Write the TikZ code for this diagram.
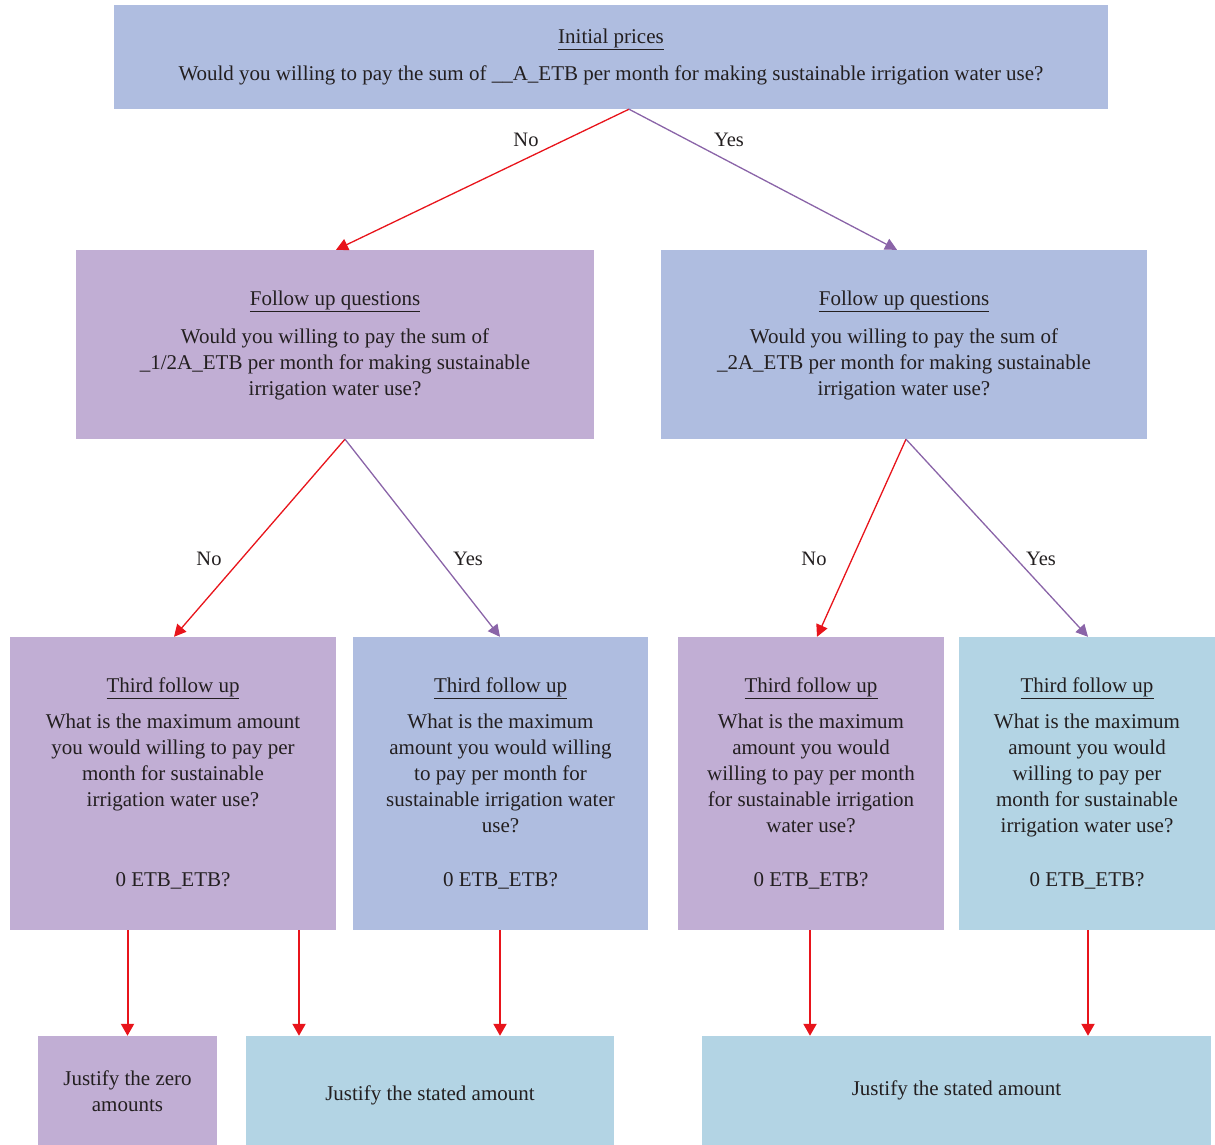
\documentclass[tikz,border=0pt]{standalone}
\usepackage{fontspec}
\setmainfont{Liberation Serif}
\usetikzlibrary{arrows.meta}
\definecolor{boxpurple}{HTML}{C1AED4}
\definecolor{boxblue}{HTML}{AFBDE0}
\definecolor{boxlight}{HTML}{B3D4E4}
\definecolor{arrred}{HTML}{E8141B}
\definecolor{arrpurple}{HTML}{8A64A8}
\definecolor{txt}{HTML}{231F20}
\tikzset{
  box/.style={rectangle, inner sep=0pt, align=center, text=txt,
    font=\fontsize{21}{26}\selectfont},
  pbox/.style={box, fill=boxpurple},
  bbox/.style={box, fill=boxblue},
  lbox/.style={box, fill=boxlight},
  noarrow/.style={draw=arrred, line width=1.3pt, -{Triangle[width=12pt,length=12pt]}},
  yesarrow/.style={draw=arrpurple, line width=1.3pt, -{Triangle[width=12pt,length=12pt]}},
  downarrow/.style={draw=arrred, line width=2pt, -{Triangle[width=13pt,length=12pt]}},
  lab/.style={text=txt, font=\fontsize{20.5}{24}\selectfont, inner sep=0pt}
}
\newcommand{\upx}[1]{\rule{0pt}{#1}}
\begin{document}
\begin{tikzpicture}[x=1pt,y=-1pt]
\useasboundingbox (0,0) rectangle (1215,1145);
% level 1
\node[bbox, minimum width=994pt, minimum height=104pt] (top) at (611,57)
  {\underline{Initial prices}\\[11pt]
   Would you willing to pay the sum of \_\_A\_ETB per month for making sustainable irrigation water use?};
% level 2
\node[pbox, minimum width=518pt, minimum height=189pt] (fl) at (335,344.5)
  {\upx{17pt}\underline{Follow up questions}\\[12pt]
   Would you willing to pay the sum of\\
   \_1/2A\_ETB per month for making sustainable\\
   irrigation water use?};
\node[bbox, minimum width=486pt, minimum height=189pt] (fr) at (904,344.5)
  {\upx{17pt}\underline{Follow up questions}\\[12pt]
   Would you willing to pay the sum of\\
   \_2A\_ETB per month for making sustainable\\
   irrigation water use?};
% level 3
\node[pbox, minimum width=326pt, minimum height=293pt] (ta) at (173,783.5)
  {\underline{Third follow up}\\[10pt]
   What is the maximum amount\\
   you would willing to pay per\\
   month for sustainable\\
   irrigation water use?\\[54pt]
   0 ETB\_ETB?};
\node[bbox, minimum width=295pt, minimum height=293pt] (tb) at (500.5,783.5)
  {\underline{Third follow up}\\[10pt]
   What is the maximum\\
   amount you would willing\\
   to pay per month for\\
   sustainable irrigation water\\
   use?\\[28pt]
   0 ETB\_ETB?};
\node[pbox, minimum width=266pt, minimum height=293pt] (tc) at (811,783.5)
  {\underline{Third follow up}\\[10pt]
   What is the maximum\\
   amount you would\\
   willing to pay per month\\
   for sustainable irrigation\\
   water use?\\[28pt]
   0 ETB\_ETB?};
\node[lbox, minimum width=256pt, minimum height=293pt] (td) at (1087,783.5)
  {\underline{Third follow up}\\[10pt]
   What is the maximum\\
   amount you would\\
   willing to pay per\\
   month for sustainable\\
   irrigation water use?\\[28pt]
   0 ETB\_ETB?};
% level 4
\node[pbox, minimum width=179pt, minimum height=109pt] (ja) at (127.5,1090.5)
  {\upx{16pt}Justify the zero\\amounts};
\node[lbox, minimum width=368pt, minimum height=109pt] (jb) at (430,1090.5)
  {\upx{25pt}Justify the stated amount};
\node[lbox, minimum width=509pt, minimum height=109pt] (jc) at (956.5,1090.5)
  {Justify the stated amount};
% connectors level 1 -> 2
\draw[noarrow] ([xshift=18pt]top.south) -- ([xshift=1pt]fl.north);
\draw[yesarrow] ([xshift=18pt]top.south) -- ([xshift=-7pt]fr.north);
\node[lab] (l1) at (526,140) {No};
\node[lab] (l2) at (729,140) {Yes};
% level 2 -> 3
\draw[noarrow] ([xshift=10pt]fl.south) -- ([xshift=1pt]ta.north);
\draw[yesarrow] ([xshift=10pt]fl.south) -- ([xshift=-0.5pt]tb.north);
\draw[noarrow] ([xshift=2pt]fr.south) -- ([xshift=6pt]tc.north);
\draw[yesarrow] ([xshift=2pt]fr.south) -- ([xshift=1pt]td.north);
\node[lab] (l3) at (209,559) {No};
\node[lab] (l4) at (468,559) {Yes};
\node[lab] (l5) at (814,559) {No};
\node[lab] (l6) at (1041,559) {Yes};
% level 3 -> 4
\draw[downarrow] ([xshift=-45.5pt]ta.south) -- (ja.north);
\draw[downarrow] ([xshift=126pt]ta.south) -- ([xshift=-131pt]jb.north);
\draw[downarrow] ([xshift=-0.5pt]tb.south) -- ([xshift=70pt]jb.north);
\draw[downarrow] ([xshift=-1pt]tc.south) -- ([xshift=-146.5pt]jc.north);
\draw[downarrow] ([xshift=1pt]td.south) -- ([xshift=131.5pt]jc.north);
\end{tikzpicture}
\end{document}
